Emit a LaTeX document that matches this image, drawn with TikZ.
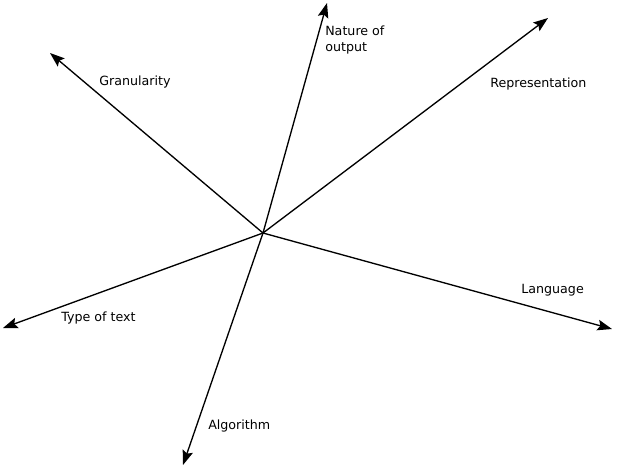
\documentclass[tikz,border=0pt]{standalone}
\usepackage{fontspec}
\setmainfont{DejaVu Sans}
\usetikzlibrary{arrows.meta}

\tikzset{
  axis/.style={-{Stealth[length=11pt,width=8pt,inset=2pt]}, line width=1pt},
  lbl/.style={anchor=west, inner sep=0pt, font=\fontsize{9.5}{12}\selectfont, align=left}
}

\begin{document}
\begin{tikzpicture}[x=0.75pt, y=-0.75pt]
			%%%%% START %%%%%
			
			\useasboundingbox (0, 0) rectangle (617, 469);
			
			\coordinate (o) at (263, 233);
			
			\coordinate (gran) at (50, 53);
			\coordinate (nat) at (327, 3);
			\coordinate (rep) at (548, 18);
			\coordinate (lang) at (612, 329);
			\coordinate (alg) at (183, 465);
			\coordinate (typ) at (3, 328);
			
			\draw[axis] (o) -- (gran);
			\draw[axis] (o) -- (nat);
			\draw[axis] (o) -- (rep);
			\draw[axis] (o) -- (lang);
			\draw[axis] (o) -- (alg);
			\draw[axis] (o) -- (typ);
			
			\node[lbl] (granlbl) at (99, 82) {Granularity};
			\node[lbl] (natlbl) at (325, 40) {Nature of\\output};
			\node[lbl] (replbl) at (490, 84) {Representation};
			\node[lbl] (langlbl) at (521, 290) {Language};
			\node[lbl] (typlbl) at (61, 318) {Type of text};
			\node[lbl] (alglbl) at (208, 426) {Algorithm};
			
			%%%%% END %%%%%
\end{tikzpicture}
\end{document}
